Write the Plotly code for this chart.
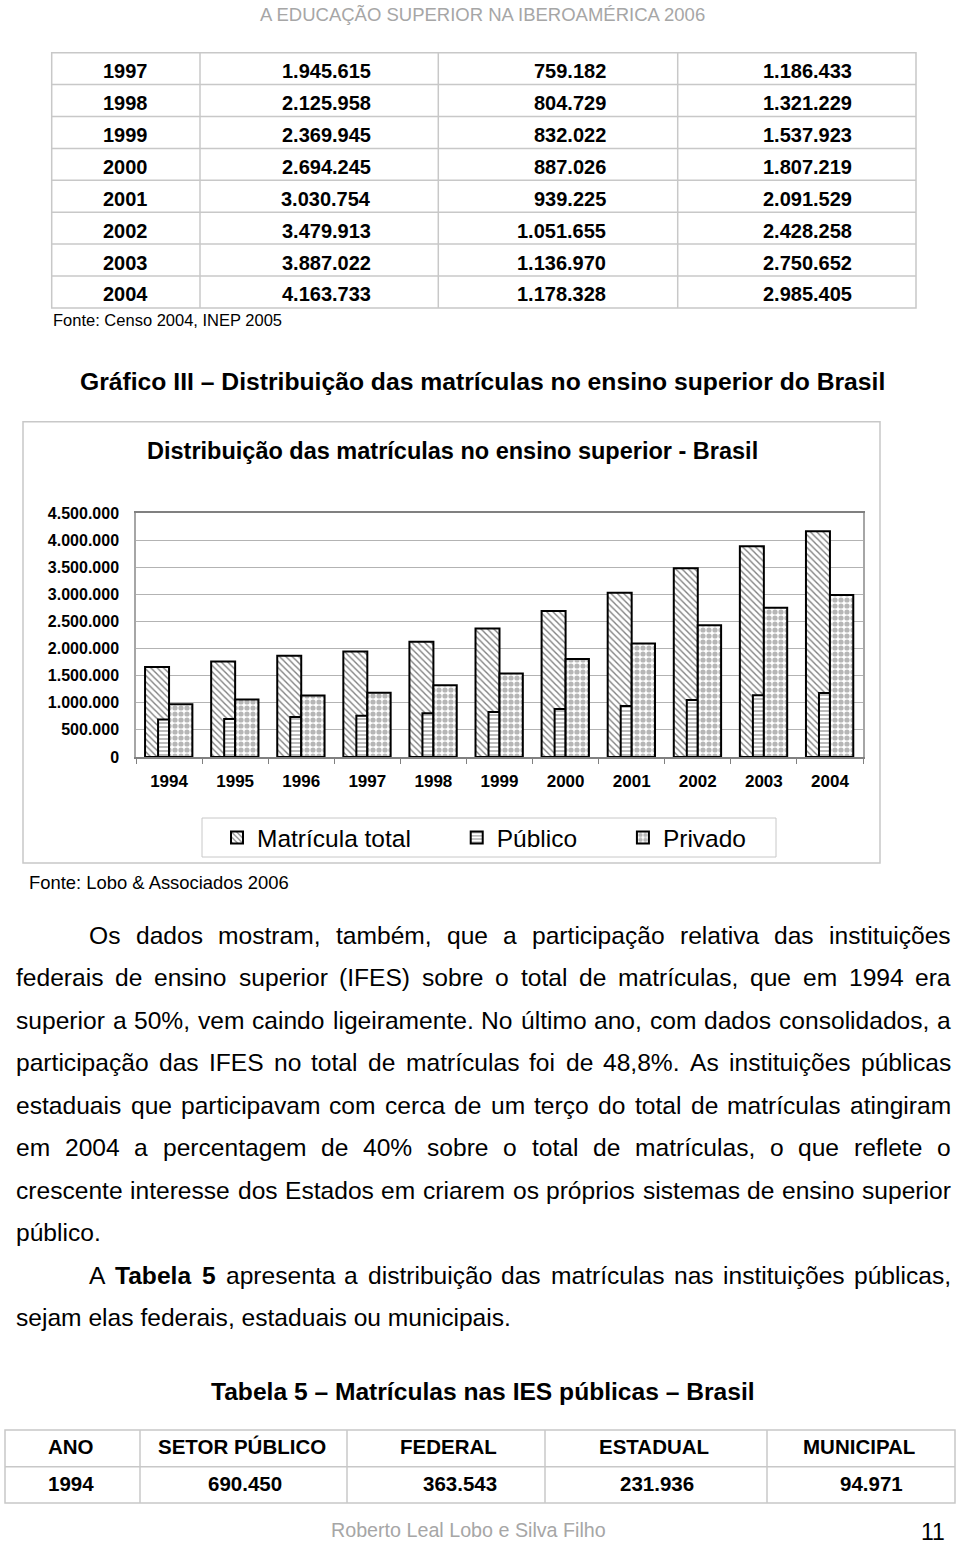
import plotly.graph_objects as go

W, H = 960, 1545
FONT = "Liberation Sans, Arial, Helvetica, sans-serif"

# ---------------- data ----------------
years = ["1994", "1995", "1996", "1997", "1998", "1999", "2000", "2001", "2002", "2003", "2004"]
total = [1661034, 1759703, 1868529, 1945615, 2125958, 2369945, 2694245, 3030754, 3479913, 3887022, 4163733]
publico = [690450, 700540, 735427, 759182, 804729, 832022, 887026, 939225, 1051655, 1136970, 1178328]
privado = [970584, 1059163, 1133102, 1186433, 1321229, 1537923, 1807219, 2091529, 2428258, 2750652, 2985405]
series_names = ["Matrícula total", "Público", "Privado"]
y_tick_vals = [0, 500000, 1000000, 1500000, 2000000, 2500000, 3000000, 3500000, 4000000, 4500000]
y_tick_labels = ["0", "500.000", "1.000.000", "1.500.000", "2.000.000", "2.500.000",
                 "3.000.000", "3.500.000", "4.000.000", "4.500.000"]
table_first_year = 3  # top table shows 1997-2004
table5_headers = ["ANO", "SETOR PÚBLICO", "FEDERAL", "ESTADUAL", "MUNICIPAL"]
table5_row = ["1994", "690.450", "363.543", "231.936", "94.971"]

header_text = "A EDUCAÇÃO SUPERIOR NA IBEROAMÉRICA 2006"
source1 = "Fonte: Censo 2004, INEP 2005"
graph_caption = "Gráfico III – Distribuição das matrículas no ensino superior do Brasil"
chart_title = "Distribuição das matrículas no ensino superior - Brasil"
source2 = "Fonte: Lobo &amp; Associados 2006"
paragraph_lines = [
    ("Os dados mostram, também, que a participação relativa das instituições", 88, True),
    ("federais de ensino superior (IFES) sobre o total de matrículas, que em 1994 era", 15, True),
    ("superior a 50%, vem caindo ligeiramente. No último ano, com dados consolidados, a", 15, True),
    ("participação das IFES no total de matrículas foi de 48,8%. As instituições públicas", 15, True),
    ("estaduais que participavam com cerca de um terço do total de matrículas atingiram", 15, True),
    ("em 2004 a percentagem de 40% sobre o total de matrículas, o que reflete o", 15, True),
    ("crescente interesse dos Estados em criarem os próprios sistemas de ensino superior", 15, True),
    ("público.", 15, False),
    ("A *Tabela* *5* apresenta a distribuição das matrículas nas instituições públicas,", 88, True),
    ("sejam elas federais, estaduais ou municipais.", 15, False),
]
table5_title = "Tabela 5 – Matrículas nas IES públicas – Brasil"
footer_text = "Roberto Leal Lobo e Silva Filho"
page_number = "11"


def br(n):
    return f"{n:,}".replace(",", ".")


def px(x):
    return x / W


def py(y):
    return 1 - y / H


# Arial / Liberation Sans advance widths (1/1000 em)
REG = {" ": 278, ",": 278, ".": 278, ":": 278, "%": 889, "&": 667, "(": 333, ")": 333, "-": 333, "–": 556,
       "a": 556, "b": 556, "c": 500, "d": 556, "e": 556, "f": 278, "g": 556, "h": 556, "i": 222, "j": 222,
       "k": 500, "l": 222, "m": 833, "n": 556, "o": 556, "p": 556, "q": 556, "r": 333, "s": 500, "t": 278,
       "u": 556, "v": 500, "w": 722, "x": 500, "y": 500, "z": 500,
       "á": 556, "à": 556, "â": 556, "ã": 556, "é": 556, "ê": 556, "í": 278, "ó": 556, "ô": 556, "õ": 556,
       "ú": 556, "ç": 500,
       "A": 667, "B": 667, "C": 722, "D": 722, "E": 667, "F": 611, "G": 778, "H": 722, "I": 278, "J": 500,
       "K": 667, "L": 556, "M": 833, "N": 722, "O": 778, "P": 667, "Q": 778, "R": 722, "S": 667, "T": 611,
       "U": 722, "V": 667, "W": 944, "X": 667, "Y": 667, "Z": 611}
BOLD = {" ": 278, ",": 278, ".": 278, "a": 556, "b": 611, "c": 556, "d": 611, "e": 556, "l": 278, "T": 611,
        "s": 556, "i": 278, "o": 611, "n": 611, "r": 389, "u": 611, "t": 333, "p": 611}


def word_width(w, bold):
    tbl = BOLD if bold else REG
    return sum(tbl.get(ch, 556) for ch in w) / 1000.0


annotations = []
shapes = []


def text(s, x, y, size, bold=False, color="#000000", xanchor="left"):
    annotations.append(dict(
        text=s, x=px(x), y=py(y), xref="paper", yref="paper", xanchor=xanchor, yanchor="middle",
        showarrow=False, borderpad=0,
        font=dict(family=FONT, size=size, color=color, weight="bold" if bold else "normal")))


def line(x0, y0, x1, y1, color="#c0c0c0", width=1.5):
    shapes.append(dict(type="line", xref="paper", yref="paper", x0=px(x0), y0=py(y0), x1=px(x1), y1=py(y1),
                       line=dict(color=color, width=width)))


def rect(x0, y0, x1, y1, color="#c0c0c0", width=1.5):
    shapes.append(dict(type="rect", xref="paper", yref="paper", x0=px(x0), y0=py(y0), x1=px(x1), y1=py(y1),
                       line=dict(color=color, width=width), fillcolor="rgba(0,0,0,0)", layer="below"))


# ---------------- header ----------------
text(header_text, 482, 14, 18.5, color="#a6a6a6", xanchor="center")

# ---------------- top table ----------------
tx0, tx1, ty0, rh = 51.7, 916, 52.7, 31.9
n_rows = len(years) - table_first_year
rect(tx0, ty0, tx1, ty0 + rh * n_rows, color="#c8c8c8")
for i in range(1, n_rows):
    line(tx0, ty0 + rh * i, tx1, ty0 + rh * i, color="#c8c8c8")
for cx in (200, 438.3, 677.7):
    line(cx, ty0, cx, ty0 + rh * n_rows, color="#c8c8c8")
for i in range(n_rows):
    k = table_first_year + i
    yc = ty0 + rh * i + rh / 2 + 2.5
    text(years[k], 125.5, yc, 20, bold=True, xanchor="center")
    text(br(total[k]), 372, yc, 20, bold=True, xanchor="right")
    text(br(publico[k]), 607, yc, 20, bold=True, xanchor="right")
    text(br(privado[k]), 853, yc, 20, bold=True, xanchor="right")
text(source1, 51.7, 320, 16.5)

# ---------------- captions ----------------
text(graph_caption, 482, 382, 24.7, bold=True, xanchor="center")
rect(23, 421.7, 880, 863, color="#c8c8c8")
text(chart_title, 452, 451, 23.5, bold=True, xanchor="center")
rect(202, 818, 776, 857, color="#c8c8c8", width=1)
text(source2, 27.5, 882, 18.4)

# ---------------- paragraph (justified) ----------------
BODY = 24.6
for li, (ln, x0, just) in enumerate(paragraph_lines):
    yc = 935 + 42.55 * li
    if not just:
        text(ln, x0, yc, BODY)
        continue
    words = ln.split(" ")
    info = []
    for w in words:
        b = w.startswith("*") and w.endswith("*")
        ww = w.strip("*")
        info.append((ww, b, word_width(ww, b) * BODY))
    gap = (950 - x0 - sum(i[2] for i in info)) / (len(info) - 1)
    x = x0
    for ww, b, wd in info:
        text(ww, x, yc, BODY, bold=b)
        x += wd + gap

# ---------------- Tabela 5 ----------------
text(table5_title, 483, 1391, 24.6, bold=True, xanchor="center")
bx0, bx1, by0, by1, by2 = 5, 955, 1430, 1466.7, 1503
rect(bx0, by0, bx1, by2, color="#c8c8c8")
line(bx0, by1, bx1, by1, color="#c8c8c8")
for cx in (140, 347, 545, 767):
    line(cx, by0, cx, by2, color="#c8c8c8")
head_x = [70.5, 241.5, 448.5, 653.5, 858.5]
val_x = [70.5, 245, 459.5, 657, 871]
for hx, h in zip(head_x, table5_headers):
    text(h, hx, 1446, 20.5, bold=True, xanchor="center")
for vx, v in zip(val_x, table5_row):
    text(v, vx, 1483, 20.5, bold=True, xanchor="center")

# ---------------- footer ----------------
text(footer_text, 468.5, 1530, 19.7, color="#a6a6a6", xanchor="center")
text(page_number, 946, 1532, 23, xanchor="right")

# ---------------- bar chart ----------------
NB = "\u00a0" * 6
fig = go.Figure()
fig.add_trace(go.Bar(
    x=years, y=total, name=series_names[0] + NB, offset=-0.363, width=0.363, hoverinfo="skip",
    marker=dict(color="white", line=dict(color="black", width=2),
                pattern=dict(shape="\\", fgcolor="black", bgcolor="white", size=4.5, solidity=0.3))))
fig.add_trace(go.Bar(
    x=years, y=publico, name=series_names[1] + NB, offset=-0.166, width=0.166, hoverinfo="skip",
    marker=dict(color="white", line=dict(color="black", width=2),
                pattern=dict(shape="-", fgcolor="#7a7a7a", bgcolor="white", size=4, solidity=0.5))))
fig.add_trace(go.Bar(
    x=years, y=privado, name=series_names[2], offset=0, width=0.353, hoverinfo="skip",
    marker=dict(color="white", line=dict(color="black", width=2),
                pattern=dict(shape=".", fgcolor="#6e6e6e", bgcolor="white", size=6, solidity=0.6))))

fig.update_layout(
    width=W, height=H, margin=dict(l=0, r=0, t=0, b=0),
    paper_bgcolor="white", plot_bgcolor="white", barmode="overlay",
    font=dict(family=FONT, color="#000000"),
    showlegend=True,
    legend=dict(orientation="h", x=px(217), y=py(837.5), xanchor="left", yanchor="middle",
                bgcolor="rgba(0,0,0,0)", borderwidth=0, traceorder="normal",
                font=dict(family=FONT, size=24.5, color="#000000"), itemclick=False, itemdoubleclick=False),
    xaxis=dict(domain=[px(136), px(863)], type="category", range=[-0.5, 10.5], tickson="boundaries",
               ticks="outside", ticklen=5, tickcolor="#808080", showline=True, linecolor="#808080",
               linewidth=1.5, mirror=True, showgrid=False, automargin=False, ticklabelstandoff=8,
               tickfont=dict(family=FONT, size=17, weight="bold", color="#000000"), fixedrange=True),
    yaxis=dict(domain=[py(757), py(513)], range=[0, 4500000], tickvals=y_tick_vals, ticktext=y_tick_labels,
               showgrid=True, gridcolor="#b3b3b3", gridwidth=1, showline=True, linecolor="#a6a6a6",
               linewidth=1.5, mirror=True, ticks="", zeroline=False, automargin=False, ticklabelstandoff=12,
               tickfont=dict(family=FONT, size=16, weight="bold", color="#000000"), fixedrange=True),
    annotations=annotations, shapes=shapes,
)

fig.write_html("out.html", config={"displayModeBar": False},
               post_script="document.body.style.margin='0';document.body.style.overflow='hidden';")
